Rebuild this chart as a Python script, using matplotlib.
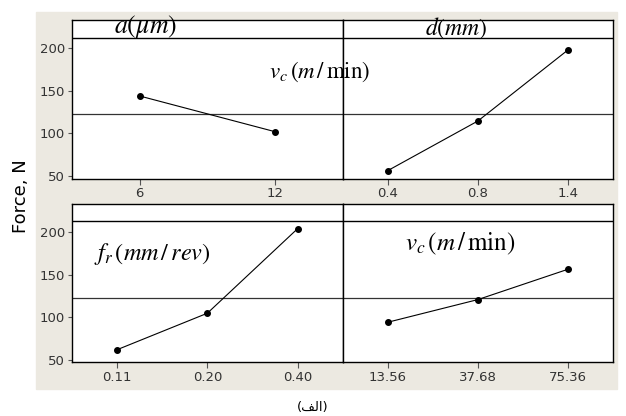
import numpy as np
from matplotlib import pyplot as plt, patches as mpatches

# main effects data
a_levels = ['6', '12']
a_force = [143.8, 102.0]
d_levels = ['0.4', '0.8', '1.4']
d_force = [56.4, 114.5, 197.7]
fr_levels = ['0.11', '0.20', '0.40']
fr_force = [62.2, 105.0, 204.2]
vc_levels = ['13.56', '37.68', '75.36']
vc_force = [94.4, 121.0, 156.6]
grand_mean = 123.0
y_ticks = [50, 100, 150, 200]

W, H = 626, 416
fig = plt.figure(figsize=(W / 100, H / 100), dpi=100)
fig.patch.set_facecolor('white')
plt.rcParams['mathtext.fontset'] = 'stix'

# beige minitab background
fig.add_artist(mpatches.Rectangle((36 / W, 1 - 389 / H), (617 - 36) / W, (389 - 12) / H,
                                  transform=fig.transFigure, color='#ece9e1', zorder=0))


def make_ax(x1, y1, x2, y2):
    return fig.add_axes([x1 / W, 1 - y2 / H, (x2 - x1) / W, (y2 - y1) / H])


def panel(ax, levels, force, ylim, strip, left):
    xs = np.arange(len(levels))
    ax.set_facecolor('white')
    ax.plot(xs, force, color='black', lw=0.8, marker='o', ms=4, zorder=3)
    ax.axhline(grand_mean, color='#333333', lw=0.9, zorder=2)
    ax.axhline(strip, color='black', lw=1.0, zorder=2)
    ax.set_xlim(-0.5, len(levels) - 0.5)
    ax.set_ylim(*ylim)
    ax.set_xticks(xs)
    ax.set_xticklabels(levels)
    ax.tick_params(axis='x', length=4, width=0.8, color='#555555', labelcolor='#333333',
                   labelsize=9.5, pad=2)
    if left:
        ax.set_yticks(y_ticks)
        ax.tick_params(axis='y', length=3, width=0.8, color='#555555', labelcolor='#333333',
                       labelsize=9.5, pad=2)
    else:
        ax.set_yticks([])
    for s in ax.spines.values():
        s.set_color('black')
        s.set_linewidth(1.0)
    ax.set_zorder(1)


top_lim = (46.6, 232.8)
bot_lim = (47.4, 233.2)

ax1 = make_ax(72, 20, 342.7, 179)
ax2 = make_ax(342.7, 20, 613, 179)
ax3 = make_ax(72, 204, 342.7, 362.3)
ax4 = make_ax(342.7, 204, 613, 362.3)

panel(ax1, a_levels, a_force, top_lim, 211.7, True)
panel(ax2, d_levels, d_force, top_lim, 211.7, False)
panel(ax3, fr_levels, fr_force, bot_lim, 213.3, True)
panel(ax4, vc_levels, vc_force, bot_lim, 213.3, False)


def ftext(x, y, s, **kw):
    fig.text(x / W, 1 - y / H, s, ha='center', va='center', zorder=5, **kw)


ftext(145, 27, r'$a(\mu m)$', fontsize=18.5)
ftext(456, 28, r'$d(mm)$', fontsize=17)
ftext(320, 72, r'$v_c\,(m\,/\,\mathrm{min})$', fontsize=16.5)
ftext(152, 254, r'$f_r\,(mm\,/\,rev)$', fontsize=17.5)
ftext(460, 244, r'$v_c\,(m\,/\,\mathrm{min})$', fontsize=18)

ftext(21, 196, 'Force, N', fontsize=13, rotation=90, family='DejaVu Sans')
# arabic "(الف)" written with presentation forms in visual order
ftext(313, 408, '(\uFED2\uFEDF\uFE8D)', fontsize=9.5, family='DejaVu Sans')

fig.savefig('out.png', dpi=100)
